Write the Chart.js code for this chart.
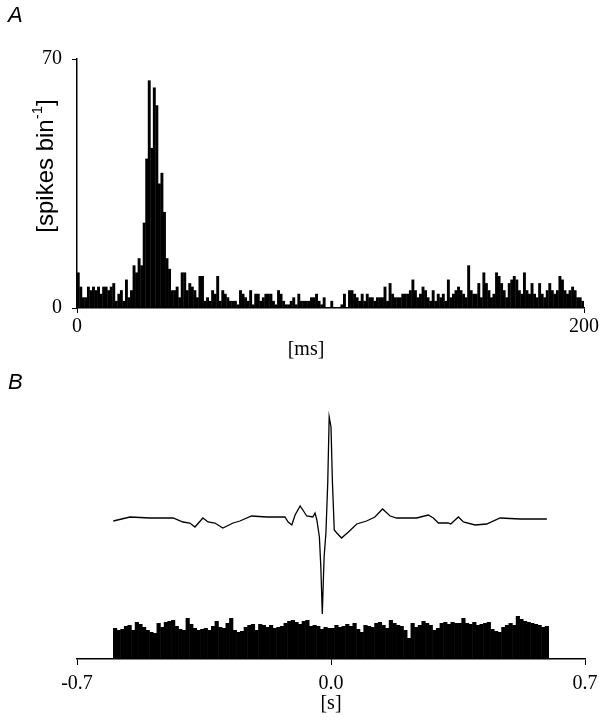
<!DOCTYPE html>
<html>
<head>
<meta charset="utf-8">
<script src="https://cdn.jsdelivr.net/npm/chart.js"></script>
<style>
  body { margin: 0; background: #fff; width: 605px; height: 727px; overflow: hidden; position: relative; }
  canvas { position: absolute; left: 0; }
  #chartA { top: 0; }
  #chartB { top: 370px; }
</style>
</head>
<body>
<canvas id="chartA" width="605" height="370"></canvas>
<canvas id="chartB" width="605" height="357"></canvas>
<script>
// A: histogram, 1 ms bins from 0 to 200 ms (spikes per bin)
const psthCounts = [
  10,6,3,3,6,5,6,5,6,4,
  6,6,5,6,7,2,4,5,2,8,
  3,5,12,10,14,12,24,42,64,45,
  62,57,35,38,27,14,11,5,5,6,
  3,10,10,5,7,6,5,3,9,9,
  2,3,2,5,4,9,2,5,4,3,
  2,2,2,1,5,4,3,2,5,1,
  4,4,2,3,4,4,4,2,1,5,
  4,2,1,1,2,3,1,4,2,2,
  2,2,3,3,4,2,1,3,0,0,
  2,0,0,0,1,4,0,5,5,4,
  3,2,4,2,4,3,3,2,3,3,
  3,6,2,7,4,3,3,3,4,4,
  4,5,8,5,3,4,6,5,3,2,
  5,2,4,3,4,2,8,3,4,5,
  6,5,4,3,12,5,4,4,7,3,
  10,7,5,3,4,10,9,7,5,3,
  7,8,9,8,5,4,10,5,4,7,
  4,3,7,4,3,5,7,5,4,5,
  9,8,5,4,5,6,5,3,3,2
];
const psthBinStart = 0;   // ms
const psthBinWidth = 1;   // ms
const psthTicksX = [0, 200];
const psthTicksY = [0, 70];

// B: averaged trace (arbitrary units) and histogram, 10 ms bins from -0.6 s
const traceTimes = [
  -0.600,-0.554,-0.499,-0.435,-0.408,-0.389,-0.375,-0.353,-0.339,-0.320,
  -0.298,-0.270,-0.251,-0.219,-0.177,-0.127,-0.118,-0.108,-0.099,-0.085,
  -0.074,-0.067,-0.050,-0.044,-0.039,-0.032,-0.028,-0.024,-0.019,-0.014,
  -0.009,-0.005,0.000,0.004,0.009,0.016,0.029,0.048,0.071,0.098,
  0.121,0.142,0.163,0.181,0.236,0.268,0.282,0.296,0.323,0.330,
  0.351,0.365,0.397,0.429,0.466,0.521,0.595
];
const traceValues = [
  -3,1,0,0,-4,-5,-9,0,-4,-5,
  -10,-5,-3,2,1,1,-4,-7,3,12,
  6,2,1,5,-2,-19,-49,-96,-39,-15,
  35,101,91,35,-12,-15,-20,-14,-6,-3,
  1,9,2,0,0,3,0,-5,-5,-6,
  1,-4,-7,-6,0,-1,-1
];
const histCounts = [
  31,29,30,33,34,29,37,35,32,29,
  27,26,36,32,37,38,39,33,30,29,
  41,35,31,29,30,31,29,33,38,32,
  31,36,41,29,27,28,32,34,35,29,
  35,34,32,34,31,32,33,36,38,39,
  37,35,38,39,33,34,33,30,32,31,
  31,34,32,33,35,33,36,30,27,34,
  33,32,36,37,34,31,39,36,34,33,
  29,21,36,32,34,38,36,34,29,31,
  36,37,35,37,36,36,41,36,35,37,
  34,35,36,37,30,28,27,32,34,36,
  34,43,40,38,37,36,35,34,32,33
];
const histBinStart = -0.6; // s
const histBinWidth = 0.01; // s
const timeTicksB = [-0.7, 0.0, 0.7];

const serif = "'Liberation Serif', 'Times New Roman', serif";
const sans = "'Liberation Sans', Arial, sans-serif";
const tickFont = { family: serif, size: 20 };

function fixedTicks(values) {
  return scale => { scale.ticks = values.map(v => ({ value: v })); };
}

// text that chart.js titles can't place (panel letters, superscript)
const labelsA = {
  id: 'labelsA',
  afterDraw(chart) {
    const ctx = chart.ctx;
    ctx.save();
    ctx.fillStyle = '#000';
    ctx.textBaseline = 'middle';
    ctx.font = 'italic 22px ' + sans;
    ctx.textAlign = 'left';
    ctx.fillText('A', 8, 16);

    ctx.font = '20px ' + serif;
    ctx.textAlign = 'center';
    ctx.fillText('[ms]', 306, 350);

    // y title: [spikes bin-1], rotated
    ctx.translate(46, 166);
    ctx.rotate(-Math.PI / 2);
    ctx.font = '24px ' + sans;
    const a = '[spikes bin', b = '-1', c = ']';
    const wa = ctx.measureText(a).width, wc = ctx.measureText(c).width;
    ctx.font = '15px ' + sans;
    const wb = ctx.measureText(b).width;
    let x = -(wa + wb + wc) / 2;
    ctx.textAlign = 'left';
    ctx.font = '24px ' + sans;
    ctx.fillText(a, x, 0);
    ctx.font = '15px ' + sans;
    ctx.fillText(b, x + wa, -8);
    ctx.font = '24px ' + sans;
    ctx.fillText(c, x + wa + wb, 0);
    ctx.restore();
  }
};

const labelsB = {
  id: 'labelsB',
  afterDraw(chart) {
    const ctx = chart.ctx;
    ctx.save();
    ctx.fillStyle = '#000';
    ctx.textBaseline = 'middle';
    ctx.font = 'italic 22px ' + sans;
    ctx.textAlign = 'left';
    ctx.fillText('B', 8, 13);
    ctx.font = '20px ' + serif;
    ctx.textAlign = 'center';
    ctx.fillText('[s]', 331, 334);
    ctx.restore();
  }
};

new Chart(document.getElementById('chartA'), {
  type: 'bar',
  data: {
    datasets: [{
      data: psthCounts.map((v, i) => ({ x: psthBinStart + (i + 0.5) * psthBinWidth, y: v })),
      backgroundColor: '#000',
      borderWidth: 0,
      inflateAmount: 0,
      barPercentage: 1.15,   // slight overlap so neighbouring bins fuse
      categoryPercentage: 1
    }]
  },
  options: {
    responsive: false,
    animation: false,
    devicePixelRatio: 1,
    layout: { padding: { left: 0, top: 59, right: 21, bottom: 0 } },
    plugins: { legend: { display: false }, tooltip: { enabled: false } },
    scales: {
      x: {
        type: 'linear',
        offset: false,
        min: 0,
        max: 200,
        afterBuildTicks: fixedTicks(psthTicksX),
        afterFit: s => { s.height = 62; },
        ticks: { font: tickFont, color: '#000', padding: 2, maxRotation: 0, autoSkip: false },
        grid: { offset: false, drawOnChartArea: false, tickLength: 5, color: '#000' },
        border: { color: '#000', width: 1.5 }
      },
      y: {
        min: 0,
        max: 70,
        afterBuildTicks: fixedTicks(psthTicksY),
        afterFit: s => { s.width = 77; },
        ticks: { font: tickFont, color: '#000', padding: 10 },
        grid: { drawOnChartArea: false, tickLength: 5, color: '#000' },
        border: { color: '#000', width: 1.5 }
      }
    }
  },
  plugins: [labelsA]
});

new Chart(document.getElementById('chartB'), {
  type: 'bar',
  data: {
    datasets: [
      {
        type: 'line',
        data: traceTimes.map((t, i) => ({ x: t, y: traceValues[i] })),
        yAxisID: 'yTrace',
        borderColor: '#000',
        borderWidth: 1.3,
        pointRadius: 0,
        tension: 0,
        fill: false
      },
      {
        type: 'bar',
        data: histCounts.map((v, i) => ({ x: histBinStart + (i + 0.5) * histBinWidth, y: v })),
        yAxisID: 'yHist',
        backgroundColor: '#000',
        borderWidth: 0,
        inflateAmount: 0,
        barPercentage: 1.15,
        categoryPercentage: 1
      }
    ]
  },
  options: {
    responsive: false,
    animation: false,
    devicePixelRatio: 1,
    layout: { padding: { left: 77, top: 40, right: 20, bottom: 0 } },
    plugins: { legend: { display: false }, tooltip: { enabled: false } },
    scales: {
      x: {
        type: 'linear',
        offset: false,
        min: -0.7,
        max: 0.7,
        afterBuildTicks: fixedTicks(timeTicksB),
        afterFit: s => { s.height = 68; },
        ticks: {
          font: tickFont, color: '#000', padding: 7, maxRotation: 0, autoSkip: false,
          callback: v => v.toFixed(1)
        },
        grid: { offset: false, drawOnChartArea: false, tickLength: 6, color: '#000' },
        border: { color: '#000', width: 1.5 }
      },
      yTrace: { display: false, min: -141, max: 108 },
      yHist: { display: false, min: 0, max: 249 }
    }
  },
  plugins: [labelsB]
});
</script>
</body>
</html>
